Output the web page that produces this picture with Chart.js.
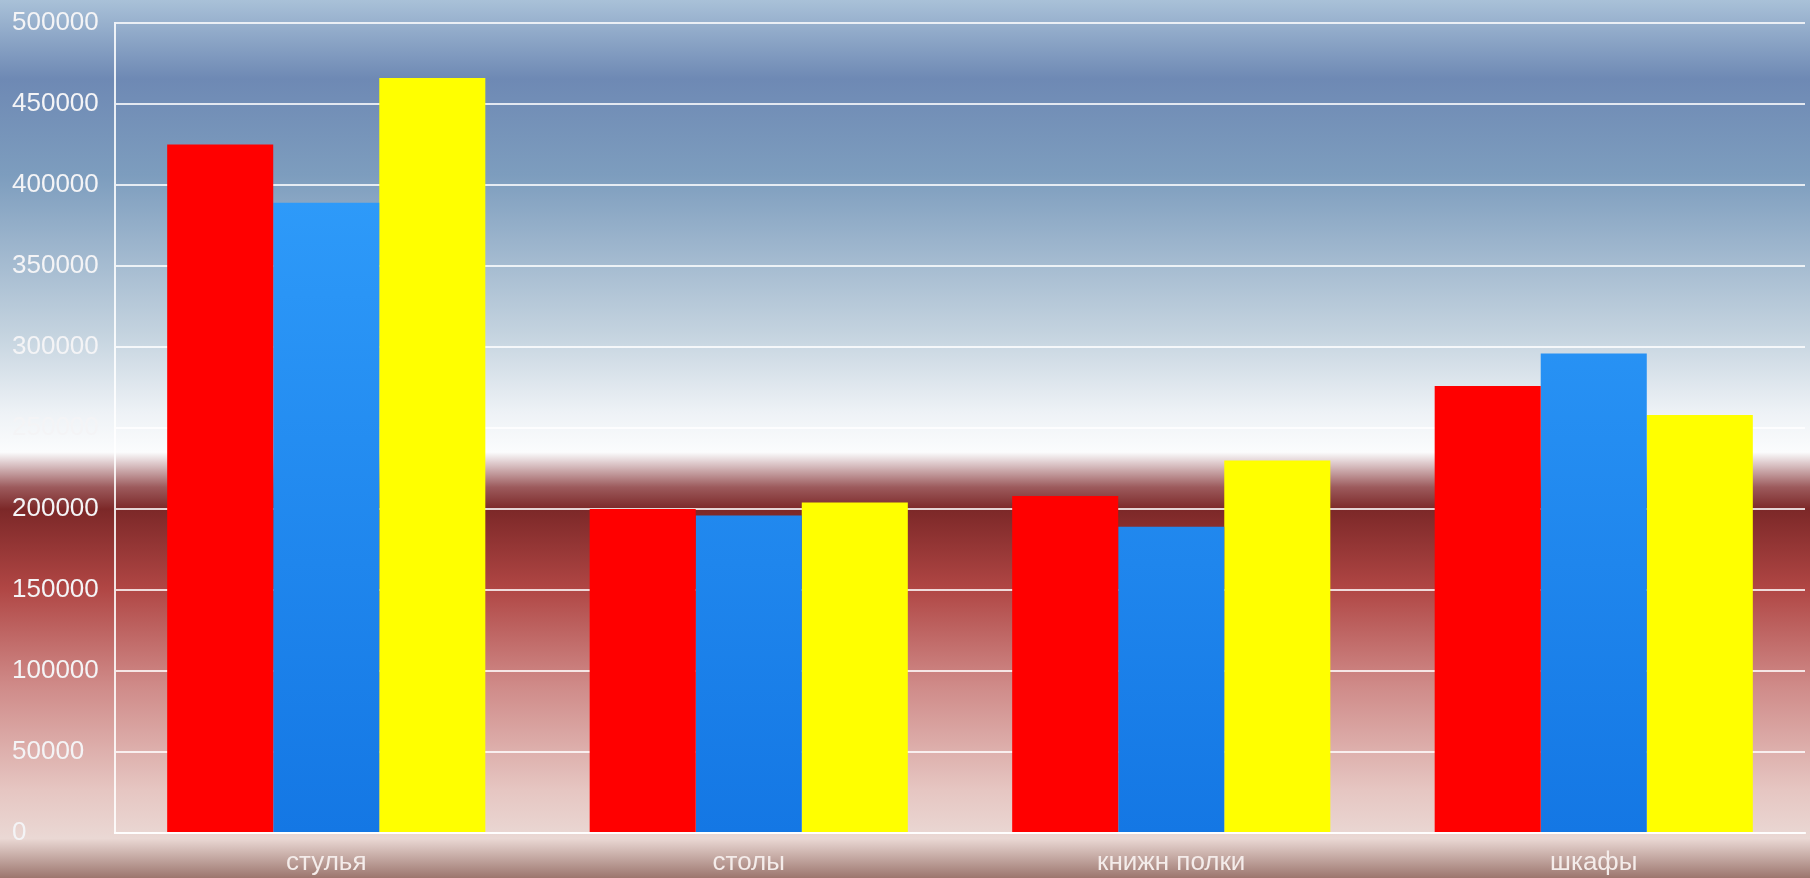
<!DOCTYPE html>
<html>
<head>
<meta charset="utf-8">
<script src="https://cdn.jsdelivr.net/npm/chart.js@4"></script>
<style>
  html, body { margin: 0; padding: 0; overflow: hidden; }
  #wrap { width: 1810px; height: 878px; position: relative; }
</style>
</head>
<body>
<div id="wrap"><canvas id="chart"></canvas></div>
<script>
const categories = ['стулья', 'столы', 'книжн полки', 'шкафы'];
const redValues = [425000, 200000, 208000, 276000];
const blueValues = [389000, 196000, 189000, 296000];
const yellowValues = [466000, 204000, 230000, 258000];
const yTicks = [0, 50000, 100000, 150000, 200000, 250000, 300000, 350000, 400000, 450000, 500000];

// full-canvas backdrop: blue sky fading to white, then dark red fading to pink
const backdrop = {
  id: 'backdrop',
  beforeDraw(chart) {
    const { ctx, width, height } = chart;
    const g = ctx.createLinearGradient(0, 0, 0, height);
    g.addColorStop(0.00, '#a9c1d8');
    g.addColorStop(0.09, '#6e89b4');
    g.addColorStop(0.20, '#7d9dbe');
    g.addColorStop(0.38, '#c4d3df');
    g.addColorStop(0.47, '#eef2f6');
    g.addColorStop(0.515, '#fbfcfd');
    g.addColorStop(0.525, '#e4d4d6');
    g.addColorStop(0.555, '#9c5a5c');
    g.addColorStop(0.58, '#7c2828');
    g.addColorStop(0.67, '#b04644');
    g.addColorStop(0.78, '#cf8a88');
    g.addColorStop(0.90, '#e6c6c2');
    g.addColorStop(0.955, '#ead8d4');
    g.addColorStop(1.00, '#9c766e');
    ctx.save();
    ctx.fillStyle = g;
    ctx.fillRect(0, 0, width, height);
    ctx.restore();
  }
};

function blueFill(context) {
  const area = context.chart.chartArea;
  if (!area) return '#1e8cf5';
  const g = context.chart.ctx.createLinearGradient(0, area.top, 0, area.bottom);
  g.addColorStop(0, '#35a4ff');
  g.addColorStop(1, '#1477e4');
  return g;
}

new Chart(document.getElementById('chart'), {
  type: 'bar',
  data: {
    labels: categories,
    datasets: [
      { data: redValues, backgroundColor: '#ff0000' },
      { data: blueValues, backgroundColor: blueFill },
      { data: yellowValues, backgroundColor: '#ffff00' }
    ]
  },
  options: {
    responsive: true,
    maintainAspectRatio: false,
    animation: false,
    layout: { padding: { top: 23, right: 5, left: 12, bottom: 0 } },
    categoryPercentage: 0.753,
    barPercentage: 1.0,
    plugins: { legend: { display: false }, tooltip: { enabled: false } },
    scales: {
      x: {
        grid: { display: false },
        border: { display: true, color: 'rgba(255,255,255,0.85)', width: 2 },
        ticks: {
          color: '#f4ecea',
          font: { family: 'Liberation Sans', size: 26 },
          padding: 6
        },
        afterFit(scale) { scale.height = 45; }
      },
      y: {
        min: 0,
        max: 500000,
        afterBuildTicks(scale) { scale.ticks = yTicks.map(v => ({ value: v })); },
        grid: { color: 'rgba(255,255,255,0.8)', lineWidth: 2, drawTicks: false },
        border: { display: true, color: 'rgba(255,255,255,0.85)', width: 2 },
        ticks: {
          color: '#f4f4f6',
          font: { family: 'Liberation Sans', size: 26 },
          crossAlign: 'far',
          callback: v => String(v)
        },
        afterFit(scale) { scale.width = 103; }
      }
    }
  },
  plugins: [backdrop]
});
</script>
</body>
</html>
